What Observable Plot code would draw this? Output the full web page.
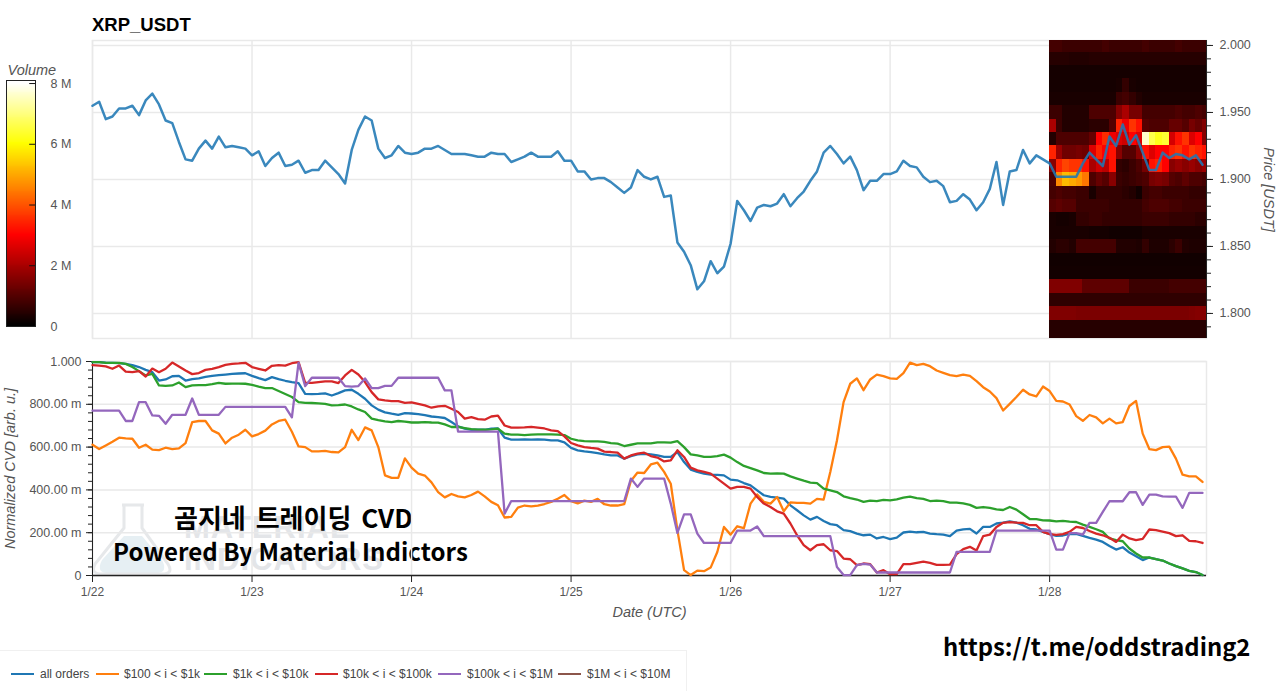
<!DOCTYPE html>
<html>
<head>
<meta charset="utf-8">
<script src="https://cdn.jsdelivr.net/npm/d3@7"></script>
<script src="https://cdn.jsdelivr.net/npm/@observablehq/plot@0.6"></script>
<style>
  html, body { margin: 0; padding: 0; background: #fff; }
  #page { position: relative; width: 1280px; height: 691px; overflow: hidden; font-family: "Liberation Sans", Arial, sans-serif; }
  #page > div { position: absolute; white-space: nowrap; }
  #title { left: 92px; top: 14px; font-size: 18.5px; font-weight: 700; color: #000; }
  .mark { color: #e3e5e8; font-weight: 700; font-size: 31px; letter-spacing: 1px; }
  .over { font-family: "Noto Sans CJK KR", "Noto Sans", sans-serif; font-weight: 700; color: #000; }
  #legend { left: 0; top: 650px; width: 687px; height: 41px; border-top: 1px solid #f0f0f0; border-right: 1px solid #f0f0f0; box-sizing: border-box; font-size: 12px; color: #444; }
  #legend span { position: absolute; top: 16px; }
  #legend i { position: absolute; top: 22px; height: 2px; }
</style>
</head>
<body>
<div id="page">
  <div id="flask" style="left:90px;top:502px">
    <svg width="84" height="74">
      <path d="M12 58 L34 34 L52 34 L72 58 Q78 70 68 71 L16 71 Q6 70 12 58 Z" fill="#e6eff3"/>
      <path d="M32 3 L54 3 M34 3 L34 26 L5 62 Q0 72 12 72 L72 72 Q84 72 78 62 L52 26 L52 3" fill="none" stroke="#e6e8ea" stroke-width="3"/>
    </svg>
  </div>
  <div class="mark" style="left:184px;top:510px">MATERIAL</div>
  <div class="mark" style="left:184px;top:542px">INDICATORS</div>
  <div id="title">XRP_USDT</div>
  <div class="over" style="left:174px;top:498px;font-size:26px;word-spacing:4px">곰지네 트레이딩 CVD</div>
  <div class="over" style="left:113px;top:533px;font-size:24px;letter-spacing:.07px">Powered By Material Indictors</div>
  <div class="over" style="left:943px;top:628px;font-size:23.8px">https://t.me/oddstrading2</div>
  <div id="legend"></div>
</div>
<script>
// hourly samples, 1/22 00:00 to 1/28 23:00
const dayLabels = ["1/22", "1/23", "1/24", "1/25", "1/26", "1/27", "1/28"];
const dayHours = [0, 24, 48, 72, 96, 120, 144];
const xEnd = 167.6;

const price = [
  1.955,1.958,1.945,1.947,1.953,1.953,1.955,1.948,1.959,1.964,1.956,1.944,
  1.942,1.928,1.915,1.914,1.923,1.929,1.923,1.932,1.924,1.925,1.924,1.923,
  1.918,1.921,1.910,1.916,1.920,1.910,1.911,1.914,1.905,1.907,1.907,1.914,
  1.909,1.904,1.897,1.922,1.937,1.947,1.944,1.923,1.916,1.918,1.925,1.920,
  1.919,1.920,1.923,1.923,1.925,1.922,1.919,1.919,1.919,1.918,1.917,1.917,
  1.920,1.919,1.919,1.913,1.915,1.917,1.920,1.917,1.917,1.917,1.921,1.914,
  1.914,1.906,1.906,1.900,1.901,1.901,1.898,1.894,1.890,1.894,1.907,1.902,
  1.900,1.902,1.887,1.888,1.853,1.846,1.836,1.818,1.824,1.839,1.830,1.835,
  1.852,1.884,1.877,1.869,1.879,1.881,1.880,1.882,1.889,1.880,1.886,1.891,
  1.899,1.906,1.920,1.925,1.919,1.912,1.917,1.907,1.892,1.899,1.899,1.904,
  1.904,1.906,1.914,1.910,1.909,1.902,1.898,1.899,1.895,1.883,1.884,1.889,
  1.885,1.877,1.883,1.893,1.913,1.881,1.906,1.907,1.922,1.912,1.918,1.915,
  1.912,1.902,1.902,1.902,1.902,1.912,1.920,1.915,1.910,1.932,1.925,1.941,
  1.926,1.933,1.920,1.907,1.907,1.920,1.916,1.919,1.918,1.915,1.918,1.911
];

const cvdAll = [
  .997,.997,.995,.994,.992,.989,.983,.974,.961,.950,.911,.916,
  .931,.933,.911,.918,.921,.928,.933,.936,.939,.942,.944,.945,
  .933,.922,.913,.927,.918,.910,.904,.899,.849,.848,.849,.851,
  .841,.852,.865,.868,.849,.826,.795,.775,.762,.756,.751,.759,
  .757,.754,.749,.743,.740,.736,.717,.697,.686,.681,.681,.681,
  .686,.687,.644,.635,.635,.636,.635,.636,.635,.631,.631,.622,
  .596,.585,.580,.577,.572,.566,.561,.561,.546,.558,.566,.569,
  .566,.561,.554,.554,.577,.530,.495,.484,.476,.471,.470,.468,
  .448,.445,.432,.421,.398,.375,.367,.364,.359,.328,.305,.281,
  .261,.274,.255,.240,.235,.212,.207,.196,.188,.191,.173,.180,
  .170,.177,.201,.205,.202,.204,.196,.193,.191,.184,.210,.216,
  .218,.196,.227,.227,.243,.247,.253,.247,.235,.218,.215,.204,
  .193,.185,.187,.194,.194,.185,.176,.168,.157,.138,.121,.132,
  .107,.090,.072,.084,.076,.070,.056,.044,.033,.022,.016,.002
];
const cvd100 = [
  .611,.591,.608,.625,.644,.641,.639,.597,.611,.588,.586,.597,
  .591,.594,.619,.717,.722,.722,.678,.663,.617,.644,.658,.681,
  .650,.661,.677,.706,.722,.728,.672,.603,.600,.580,.580,.582,
  .577,.575,.600,.681,.633,.692,.678,.600,.468,.456,.456,.547,
  .504,.476,.467,.435,.390,.365,.381,.370,.365,.376,.392,.370,
  .344,.328,.271,.274,.317,.327,.323,.327,.334,.344,.359,.376,
  .347,.337,.350,.344,.358,.333,.327,.327,.333,.442,.481,.479,
  .519,.527,.484,.429,.212,.025,.002,.023,.020,.037,.110,.227,
  .191,.230,.221,.336,.379,.344,.336,.367,.300,.342,.339,.339,
  .336,.358,.355,.484,.631,.810,.896,.921,.866,.916,.939,.932,
  .921,.919,.946,.995,.983,.989,.978,.958,.947,.936,.932,.939,
  .933,.908,.880,.860,.829,.771,.802,.834,.868,.846,.837,.883,
  .862,.816,.813,.799,.745,.723,.750,.739,.711,.733,.711,.717,
  .792,.816,.663,.591,.586,.600,.602,.546,.471,.463,.463,.437
];
const cvd1k = [
  .997,.997,.994,.994,.994,.989,.974,.955,.935,.942,.888,.886,
  .888,.902,.880,.888,.890,.890,.894,.900,.896,.897,.897,.896,
  .891,.883,.876,.876,.862,.848,.834,.810,.807,.806,.804,.802,
  .795,.796,.799,.790,.776,.764,.733,.726,.720,.717,.722,.719,
  .715,.715,.717,.715,.714,.706,.694,.694,.689,.684,.681,.681,
  .683,.686,.663,.658,.658,.656,.658,.659,.659,.659,.658,.656,
  .639,.631,.628,.627,.627,.624,.619,.616,.605,.611,.617,.617,
  .617,.622,.622,.621,.628,.600,.566,.561,.554,.554,.558,.565,
  .551,.530,.512,.502,.491,.479,.476,.477,.476,.463,.453,.443,
  .434,.432,.406,.398,.390,.370,.362,.355,.344,.350,.348,.353,
  .351,.356,.364,.369,.362,.358,.348,.350,.348,.341,.341,.337,
  .330,.316,.320,.316,.309,.306,.320,.308,.286,.264,.263,.258,
  .257,.253,.255,.252,.250,.238,.227,.216,.204,.173,.165,.160,
  .126,.103,.084,.084,.076,.070,.056,.044,.033,.022,.016,.002
];
const cvd10k = [
  .983,.981,.977,.966,.981,.953,.950,.955,.930,.967,.950,.966,
  .995,.977,.958,.941,.946,.961,.966,.974,.984,.989,.991,.994,
  .974,.966,.958,.980,.983,.981,.992,.997,.900,.900,.904,.907,
  .907,.899,.935,.961,.939,.904,.857,.823,.818,.815,.815,.807,
  .809,.802,.795,.784,.790,.793,.779,.764,.733,.740,.731,.728,
  .743,.747,.701,.691,.691,.692,.695,.691,.687,.678,.675,.650,
  .619,.608,.600,.596,.593,.579,.577,.574,.546,.561,.569,.574,
  .558,.551,.533,.538,.585,.554,.504,.491,.484,.476,.453,.429,
  .406,.414,.414,.406,.367,.336,.320,.300,.289,.243,.188,.142,
  .118,.142,.146,.118,.114,.079,.076,.048,.056,.053,.014,.025,
  .006,.006,.053,.053,.059,.065,.059,.050,.050,.051,.100,.123,
  .134,.117,.184,.191,.227,.246,.249,.247,.246,.235,.235,.204,
  .193,.190,.193,.204,.227,.222,.208,.196,.188,.176,.157,.191,
  .173,.165,.171,.215,.212,.205,.198,.184,.188,.162,.160,.152
];
const cvd100k = [
  .770,.770,.770,.770,.770,.722,.722,.810,.810,.748,.746,.709,
  .751,.751,.751,.827,.751,.751,.751,.751,.788,.788,.788,.788,
  .788,.788,.788,.788,.788,.788,.739,.995,.885,.924,.924,.924,
  .924,.924,.885,.883,.885,.921,.876,.876,.886,.886,.924,.924,
  .924,.924,.924,.924,.924,.865,.865,.672,.672,.672,.672,.672,
  .672,.672,.289,.348,.348,.348,.348,.348,.348,.348,.348,.348,
  .348,.348,.348,.348,.348,.348,.348,.348,.348,.453,.414,.453,
  .453,.453,.453,.336,.199,.286,.286,.196,.152,.152,.152,.152,
  .152,.210,.210,.210,.229,.184,.184,.184,.184,.184,.184,.184,
  .184,.184,.184,.184,.040,.002,.002,.048,.054,.051,.014,.014,
  .014,.014,.014,.014,.014,.014,.014,.014,.014,.014,.110,.110,
  .110,.110,.110,.110,.210,.210,.210,.210,.210,.210,.210,.210,
  .210,.121,.121,.198,.198,.191,.246,.246,.297,.347,.347,.347,
  .389,.389,.330,.378,.378,.370,.369,.369,.316,.386,.386,.386
];

const seriesNames = ["all orders", "$100 < i < $1k", "$1k < i < $10k", "$10k < i < $100k", "$100k < i < $1M", "$1M < i < $10M"];
const seriesColors = ["#1f77b4", "#ff7f0e", "#2ca02c", "#d62728", "#9467bd", "#8c564b"];
const seriesValues = [cvdAll, cvd100, cvd1k, cvd10k, cvd100k];

// order book volume in millions, one row per price level, one value per hour of 1/28
const priceBins = [2.00,1.99,1.98,1.97,1.96,1.95,1.94,1.93,1.92,1.91,1.90,1.89,1.88,1.87,1.86,1.85,1.84,1.83,1.82,1.81,1.80,1.79,1.78];
const volumeRows = [
  [.8,.8,.7,.7,.7,.7,.7,.7,.8,.7,.7,.7,.7,.7,.8,.7,.7,.7,.7,.8,.7,.7,.7,.7],
  [.45,.45,.45,.4,.4,.4,.45,.45,.45,.45,.45,.45,.45,.45,.45,.45,.45,.45,.45,.45,.45,.45,.45,.45],
  [.25,.25,.25,.25,.25,.25,.25,.25,.25,.25,.25,.25,.25,.25,.25,.25,.25,.25,.25,.25,.25,.25,.25,.25],
  [.25,.25,.25,.25,.25,.25,.25,.25,.25,.25,.3,.6,.3,.25,.25,.25,.25,.25,.25,.25,.25,.25,.25,.25],
  [.3,.3,.3,.3,.3,.3,.3,.3,.3,.3,.7,.8,.6,.4,.3,.3,.3,.3,.3,.3,.3,.3,.3,.3],
  [.7,.7,.4,.4,.4,.4,.9,.9,.9,.9,1.6,2,1.4,1.4,.8,.8,.8,.8,.8,.9,.8,.8,.9,.8],
  [2,.7,.4,.4,.4,.4,.5,.5,.5,1,3.4,2.8,3.6,3.2,1,.9,.9,.9,1.2,1.2,1,1.4,1.2,1.5],
  [.4,.9,.9,.9,.9,.9,1.2,3,3.5,2.8,2.6,2.4,3,2.6,7.6,6.6,6.2,6.4,2.5,3.2,3.6,2.6,3,1.6],
  [3.4,1.8,1.3,1.3,1.4,1.3,2.6,3.4,3,3.2,1.6,1,1,1.6,3.2,2.6,3,3,3.4,3.6,3.2,3.6,3.4,3.2],
  [1.6,3.4,3.8,3.6,3.6,3.2,2,2.4,2.2,3.2,.6,.5,.7,.9,1.4,3.2,3.4,3,1.6,1.8,1.6,1.8,1.6,1.8],
  [.9,4.6,5.2,5,4.8,4.4,.9,1.2,1,1.6,.7,.6,.7,.8,.9,1.4,1.5,1.4,1,.9,1.1,.9,.9,.8],
  [.8,.9,.8,.8,.7,.7,.3,.6,.6,.6,.6,.5,.4,.2,.7,.8,.8,.7,.7,.7,.7,.6,.6,.6],
  [1,1.1,1,1,.7,.7,.7,.7,.7,.6,.6,.6,.6,.6,.8,.9,.9,.9,.8,.8,.7,.7,.7,.7],
  [.3,.25,.25,.3,.6,.6,.7,.7,.6,.6,.6,.6,.6,.6,.7,.7,.7,.7,.6,.6,.6,.6,.5,.5],
  [.3,.3,.3,.3,.3,.3,.25,.25,.25,.2,.2,.2,.2,.2,.3,.3,.3,.3,.3,.3,.3,.3,.3,.3],
  [.4,.5,.5,.4,.8,.8,.8,.8,.8,.8,.4,.4,.4,.35,.6,.35,.35,.35,.5,.7,.4,.35,.35,.35],
  [.2,.2,.2,.2,.2,.2,.2,.2,.2,.2,.2,.2,.2,.2,.2,.2,.2,.2,.2,.2,.2,.2,.2,.2],
  [.22,.22,.22,.22,.22,.22,.22,.22,.22,.22,.22,.22,.22,.22,.22,.22,.22,.22,.22,.22,.22,.22,.22,.22],
  [1.5,1.5,1.5,1.5,1.5,1.1,1.1,1.1,1.1,1.1,1.1,1.1,.7,.7,.7,.7,.7,.7,.8,.8,.8,.8,.8,.8],
  [.55,.55,.55,.55,.55,.55,.55,.55,.55,.55,.55,.55,.55,.55,.55,.55,.55,.55,.55,.55,.55,.55,.55,.55],
  [1.5,1.5,1.5,1.5,1.45,1.45,1.45,1.45,1.45,1.45,1.45,1.45,1.45,1.45,1.45,1.45,1.45,1.45,1.45,1.45,1.45,1.5,1.55,1.55],
  [.45,.45,.45,.45,.45,.45,.45,.45,.45,.45,.45,.45,.45,.45,.45,.45,.45,.45,.45,.45,.45,.45,.45,.45],
  [.45,.45,.45,.45,.45,.45,.45,.45,.45,.45,.45,.45,.45,.45,.45,.45,.45,.45,.45,.45,.45,.45,.45,.45]
];

const priceTicks = [2.0, 1.95, 1.9, 1.85, 1.8];
const priceMinor = d3.range(179, 201).map(d => d / 100);
const cvdTicks = [1, .8, .6, .4, .2, 0];
const cvdMinor = d3.range(0, 26).map(d => d * .04);
const volumeTicks = [0, 2e6, 4e6, 6e6, 8e6];

const gridColor = "#e9e9e9";
const tickColor = "#555";
const fontFamily = "Liberation Sans, Arial, sans-serif";

// bokeh Hot256: black, red, yellow, white
const hot = d3.scaleLinear().domain([0, .375, .75, 1]).range(["#000", "#f00", "#ff0", "#fff"]);
const colorOpts = {type: "linear", domain: [0, 8e6], interpolate: t => hot(t)};

const heatCells = priceBins.flatMap((p, r) => volumeRows[r].map((v, c) => ({p, h: 144 + c, v: v * 1e6})));
const priceData = price.map((v, h) => ({h, v}));

const sizes = {width: 1280, marginLeft: 92, marginRight: 74};
const page = document.getElementById("page");

const topChart = Plot.plot({
  ...sizes,
  height: 345,
  marginTop: 40,
  marginBottom: 7,
  style: {position: "absolute", left: 0, top: 0, background: "transparent", fontFamily},
  x: {domain: [0, xEnd], axis: null},
  y: {domain: [1.7813, 2.0037], axis: null},
  color: colorOpts,
  marks: [
    Plot.frame({stroke: gridColor, strokeWidth: 1.5}),
    Plot.gridX(dayHours, {stroke: gridColor, strokeOpacity: 1, strokeWidth: 1.5}),
    Plot.gridY(priceTicks, {stroke: gridColor, strokeOpacity: 1, strokeWidth: 1.5}),
    Plot.rect(heatCells, {x1: "h", x2: d => d.h + 1, y1: d => d.p - .005, y2: d => d.p + .005, fill: "v", clip: true, shapeRendering: "crispEdges"}),
    Plot.axisY(priceMinor, {anchor: "right", tickSize: 4, text: null, label: null, stroke: "#222"}),
    Plot.axisY(priceTicks, {anchor: "right", tickSize: 6, tickPadding: 7, label: null, stroke: "#222", fill: tickColor, fontSize: 12.5, tickFormat: d3.format(".3f")}),
    Plot.ruleX([xEnd], {stroke: "#222"}),
    Plot.line(priceData, {x: "h", y: "v", stroke: seriesColors[0], strokeWidth: 2.5, strokeOpacity: .88}),
    Plot.text(["Price [USDT]"], {frameAnchor: "right", dx: 62, rotate: 90, textAnchor: "middle", fontStyle: "italic", fontSize: 14.5, fill: tickColor})
  ]
});
page.appendChild(topChart);

const cvdFormat = d => d === 0 ? "0" : d === 1 ? "1.000" : d3.format(".2f")(d * 1000) + " m";

const cvdChart = Plot.plot({
  ...sizes,
  height: 280,
  marginTop: 16,
  marginBottom: 50,
  style: {position: "absolute", left: 0, top: "345px", background: "transparent", fontFamily},
  x: {domain: [0, xEnd], axis: null},
  y: {domain: [0, 1], axis: null},
  marks: [
    Plot.frame({stroke: gridColor, strokeWidth: 1.5}),
    Plot.gridX(dayHours, {stroke: gridColor, strokeOpacity: 1, strokeWidth: 1.5}),
    Plot.gridY(cvdTicks, {stroke: gridColor, strokeOpacity: 1, strokeWidth: 1.5}),
    Plot.axisY(cvdMinor, {anchor: "left", tickSize: 4, text: null, label: null, stroke: "#222"}),
    Plot.axisY(cvdTicks, {anchor: "left", tickSize: 6, tickPadding: 5, label: null, stroke: "#222", fill: tickColor, fontSize: 12.5, tickFormat: cvdFormat}),
    Plot.axisX(dayHours, {anchor: "bottom", tickSize: 7, tickPadding: 5, label: null, stroke: "#222", fill: tickColor, fontSize: 12, tickFormat: d => dayLabels[dayHours.indexOf(d)]}),
    Plot.ruleX([0], {stroke: "#222"}),
    Plot.ruleY([0], {stroke: "#222", strokeWidth: 1.5}),
    ...seriesValues.map((vals, i) => Plot.line(vals.map((v, h) => ({h, v})), {x: "h", y: "v", stroke: seriesColors[i], strokeWidth: 2.3})),
    Plot.text(["Normalized CVD [arb. u.]"], {frameAnchor: "left", dx: -82, rotate: -90, textAnchor: "middle", fontStyle: "italic", fontSize: 14.5, fill: tickColor}),
    Plot.text(["Date (UTC)"], {frameAnchor: "bottom", dy: 41, fontStyle: "italic", fontSize: 14.5, fill: tickColor})
  ]
});
page.appendChild(cvdChart);

// colour bar
const rampStep = 8.1e6 / 256;
const ramp = d3.range(0, 256).map(i => i * rampStep);
const barChart = Plot.plot({
  width: 90,
  height: 280,
  marginLeft: 6,
  marginRight: 55,
  marginTop: 25,
  marginBottom: 9,
  style: {position: "absolute", left: 0, top: "55px", background: "transparent", fontFamily},
  x: {domain: [0, 1], axis: null},
  y: {domain: [0, 8.1e6], axis: null},
  color: {...colorOpts},
  marks: [
    Plot.rect(ramp, {x1: 0, x2: 1, y1: d => d, y2: d => d + rampStep, fill: d => d, shapeRendering: "crispEdges"}),
    Plot.ruleY(volumeTicks, {x1: .8, x2: 1, stroke: "#111"}),
    Plot.frame({stroke: "#222"}),
    Plot.axisY(volumeTicks, {anchor: "right", tickSize: 0, tickPadding: 15, label: null, fill: tickColor, fontSize: 12.5, tickFormat: d => d === 0 ? "0" : d / 1e6 + " M"}),
    Plot.text(["Volume"], {frameAnchor: "top-left", dx: 1, dy: -16, fontStyle: "italic", fontSize: 14.5, fill: tickColor, textAnchor: "start"})
  ]
});
page.appendChild(barChart);

// legend row
const legendSwatch = [11, 96, 204, 315, 438, 558];
const legendText = [40, 124, 233, 343, 467, 587];
const legend = document.getElementById("legend");
seriesNames.forEach((name, i) => {
  const sw = document.createElement("i");
  sw.style.left = legendSwatch[i] + "px";
  sw.style.width = "23px";
  sw.style.background = seriesColors[i];
  legend.appendChild(sw);
  const tx = document.createElement("span");
  tx.style.left = legendText[i] + "px";
  tx.textContent = name;
  legend.appendChild(tx);
});
</script>
</body>
</html>
